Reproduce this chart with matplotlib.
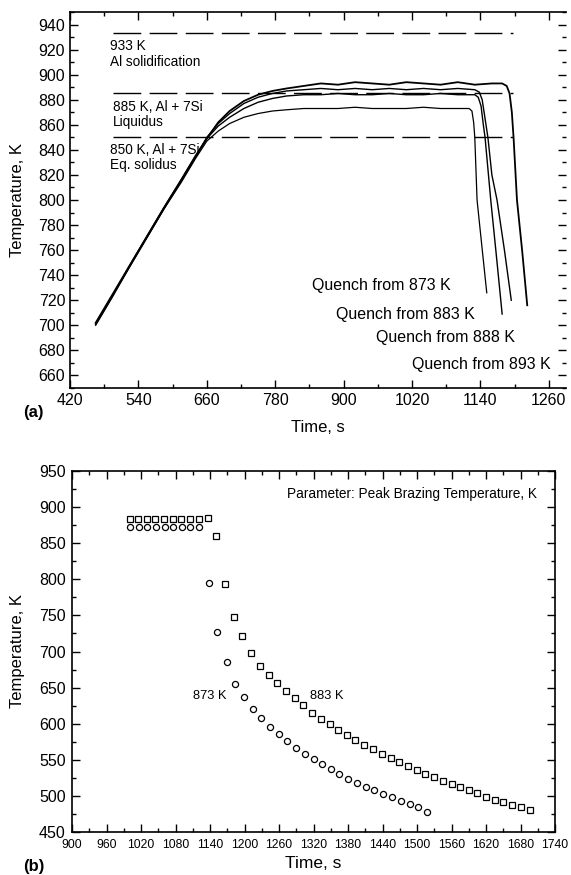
import matplotlib
matplotlib.use("Agg")
import matplotlib.pyplot as plt
from matplotlib.ticker import MultipleLocator

plt.rcParams['font.family'] = ['Liberation Sans', 'DejaVu Sans']

# ---------------- Panel (a) data: thermal cycles ----------------
t_893 = [465, 495, 525, 555, 585, 615, 640, 660, 680, 700, 725, 750, 775, 800, 830, 860,
         890, 920, 950, 980, 1010, 1040, 1070, 1100, 1130, 1160, 1178, 1186, 1191, 1195,
         1198, 1204, 1213, 1222]
T_893 = [702, 725, 748, 771, 794, 816, 835, 849, 862, 871, 879, 884, 887, 889, 891, 893,
         892, 894, 893, 892, 894, 893, 892, 894, 892, 893, 893, 891, 885, 870,
         850, 800, 760, 716]

t_888 = [465, 495, 525, 555, 585, 615, 640, 660, 680, 700, 725, 750, 775, 800, 830, 860,
         890, 920, 950, 980, 1010, 1040, 1070, 1100, 1130, 1138, 1143, 1148, 1153, 1160,
         1169, 1182, 1194]
T_888 = [701, 724, 747, 770, 793, 815, 834, 850, 861, 869, 877, 882, 885, 887, 888, 889,
         888, 889, 888, 889, 888, 889, 888, 889, 888, 886, 880, 865, 850, 820,
         800, 760, 720]

t_883 = [465, 495, 525, 555, 585, 615, 640, 660, 680, 700, 725, 750, 775, 800, 830, 860,
         890, 920, 950, 980, 1010, 1040, 1070, 1100, 1130, 1136, 1141, 1145, 1148, 1158,
         1168, 1178]
T_883 = [701, 724, 748, 771, 794, 816, 835, 849, 859, 866, 873, 878, 881, 883, 884, 884,
         885, 884, 884, 885, 884, 884, 885, 884, 884, 882, 875, 860, 850, 800,
         755, 709]

t_873 = [465, 495, 525, 555, 585, 615, 640, 660, 680, 700, 725, 750, 775, 800, 830, 860,
         890, 920, 950, 980, 1010, 1040, 1070, 1100, 1120, 1125, 1128, 1130, 1134, 1142,
         1151]
T_873 = [700, 723, 747, 770, 793, 814, 833, 847, 855, 861, 866, 869, 871, 872, 873, 873,
         873, 874, 873, 873, 873, 874, 873, 873, 873, 871, 862, 850, 800, 765,
         726]

ref_levels = [933, 885, 850]
ref_t = [495, 1197]
ref_texts = ["933 K\nAl solidification", "885 K, Al + 7Si\nLiquidus",
             "850 K, Al + 7Si\nEq. solidus"]
ref_text_pos = [(490, 916.5), (495, 868.5), (490, 834)]

quench_labels = ["Quench from 873 K", "Quench from 883 K",
                 "Quench from 888 K", "Quench from 893 K"]
quench_pos = [(1088, 732), (1130, 709), (1200, 690), (1264, 669)]

# ---------------- Panel (b) data: cooling points ----------------
t_sq = [1000, 1015, 1030, 1045, 1060, 1075, 1090, 1105, 1120, 1136,
        1151, 1166, 1181, 1196, 1211, 1227, 1242, 1257, 1272, 1287, 1302, 1318, 1333, 1348,
        1363, 1378, 1393, 1408, 1424, 1439, 1454, 1469, 1484, 1500, 1514, 1530, 1545, 1560,
        1575, 1590, 1605, 1620, 1635, 1650, 1666, 1681, 1697]
T_sq = [884, 884, 884, 884, 884, 883, 883, 884, 884, 885,
        860, 793, 748, 721, 698, 680, 668, 656, 645, 635, 626, 615, 607, 600,
        591, 584, 577, 571, 564.5, 558, 552, 546.5, 541, 536, 530, 526, 521, 516,
        512, 508, 504, 499, 495, 492, 487.5, 484, 480]

t_ci = [1001, 1016, 1031, 1046, 1061, 1076, 1091, 1106, 1121,
        1139, 1153, 1169, 1184, 1199, 1214, 1229, 1244, 1260, 1274, 1290, 1305, 1320, 1335,
        1350, 1365, 1380, 1396, 1411, 1426, 1441, 1456, 1472, 1487, 1502, 1517]
T_ci = [873, 873, 873, 873, 873, 873, 873, 873, 873,
        795, 727, 685, 655, 637, 620, 607.5, 596, 586, 576, 567, 558, 551, 544,
        537, 530, 524, 518, 513, 508, 503, 498, 493, 489, 484, 478]

W, H = 571, 875
fig = plt.figure(figsize=(W / 100, H / 100), dpi=100)

# ---------------- Panel (a) ----------------
ax1 = fig.add_axes([70 / W, 1 - 388 / H, (566 - 70) / W, (388 - 12) / H])
for t, T, lw in [(t_893, T_893, 1.3), (t_888, T_888, 1.0), (t_883, T_883, 1.0), (t_873, T_873, 0.9)]:
    ax1.plot(t, T, color='black', lw=lw, solid_joinstyle='round')
for lev in ref_levels:
    ax1.plot(ref_t, [lev, lev], color='black', lw=1.0, dashes=(20, 6))
for txt, (x, y) in zip(ref_texts, ref_text_pos):
    ax1.text(x, y, txt, fontsize=9.8, ha='left', va='center', linespacing=1.1)
for txt, (x, y) in zip(quench_labels, quench_pos):
    ax1.text(x, y, txt, fontsize=11.5, ha='right', va='center')

ax1.set_xlim(420, 1290)
ax1.set_ylim(650, 950)
ax1.xaxis.set_minor_locator(MultipleLocator(60))
ax1.yaxis.set_minor_locator(MultipleLocator(10))
ax1.set_yticks(range(660, 941, 20))
ax1.set_xticks(range(420, 1261, 120))
ax1.spines['right'].set_visible(False)
for s in ['left', 'bottom', 'top']:
    ax1.spines[s].set_linewidth(1.2)
ax1.tick_params(which='both', direction='in', top=True, right=True, labelsize=11.5, width=1.0)
ax1.tick_params(which='major', length=6)
ax1.tick_params(which='minor', length=3)
ax1.set_xlabel('Time, s', fontsize=12)
ax1.set_ylabel('Temperature, K', fontsize=12)
ax1.xaxis.set_label_coords(0.5, -0.106)
ax1.xaxis.label.set_va('center')
ax1.yaxis.set_label_coords(-0.105, 0.5)
ax1.yaxis.label.set_va('center')
fig.text(33 / W, 1 - 412 / H, '(a)', fontsize=12, weight='bold', ha='center', va='center')

# ---------------- Panel (b) ----------------
ax2 = fig.add_axes([72 / W, 1 - 832 / H, (555 - 72) / W, (832 - 471) / H])
ax2.plot(t_sq, T_sq, linestyle='none', marker='s', markersize=4.6, markerfacecolor='white',
         markeredgecolor='black', markeredgewidth=0.9)
ax2.plot(t_ci, T_ci, linestyle='none', marker='o', markersize=4.4, markerfacecolor='white',
         markeredgecolor='black', markeredgewidth=0.9)
ax2.text(1140, 638, '873 K', fontsize=9.3, ha='center', va='center')
ax2.text(1314, 638, '883 K', fontsize=9.3, ha='left', va='center')
ax2.text(0.963, 0.935, 'Parameter: Peak Brazing Temperature, K', transform=ax2.transAxes,
         fontsize=9.8, ha='right', va='center')

ax2.set_xlim(900, 1740)
ax2.set_ylim(450, 950)
ax2.xaxis.set_major_locator(MultipleLocator(60))
ax2.xaxis.set_minor_locator(MultipleLocator(30))
ax2.yaxis.set_major_locator(MultipleLocator(50))
ax2.yaxis.set_minor_locator(MultipleLocator(25))
for s in ax2.spines.values():
    s.set_linewidth(1.2)
ax2.tick_params(which='both', direction='in', top=True, right=True, width=1.0)
ax2.tick_params(which='major', length=6)
ax2.tick_params(which='minor', length=3)
ax2.tick_params(axis='x', labelsize=8.8, pad=5)
ax2.tick_params(axis='y', labelsize=11.5, pad=4.5)
ax2.set_xlabel('Time, s', fontsize=12.5)
ax2.set_ylabel('Temperature, K', fontsize=12)
ax2.xaxis.set_label_coords(0.5, -0.088)
ax2.xaxis.label.set_va('center')
ax2.yaxis.set_label_coords(-0.112, 0.5)
ax2.yaxis.label.set_va('center')
fig.text(34 / W, 1 - 866 / H, '(b)', fontsize=12, weight='bold', ha='center', va='center')

fig.savefig('out.png', dpi=100)
